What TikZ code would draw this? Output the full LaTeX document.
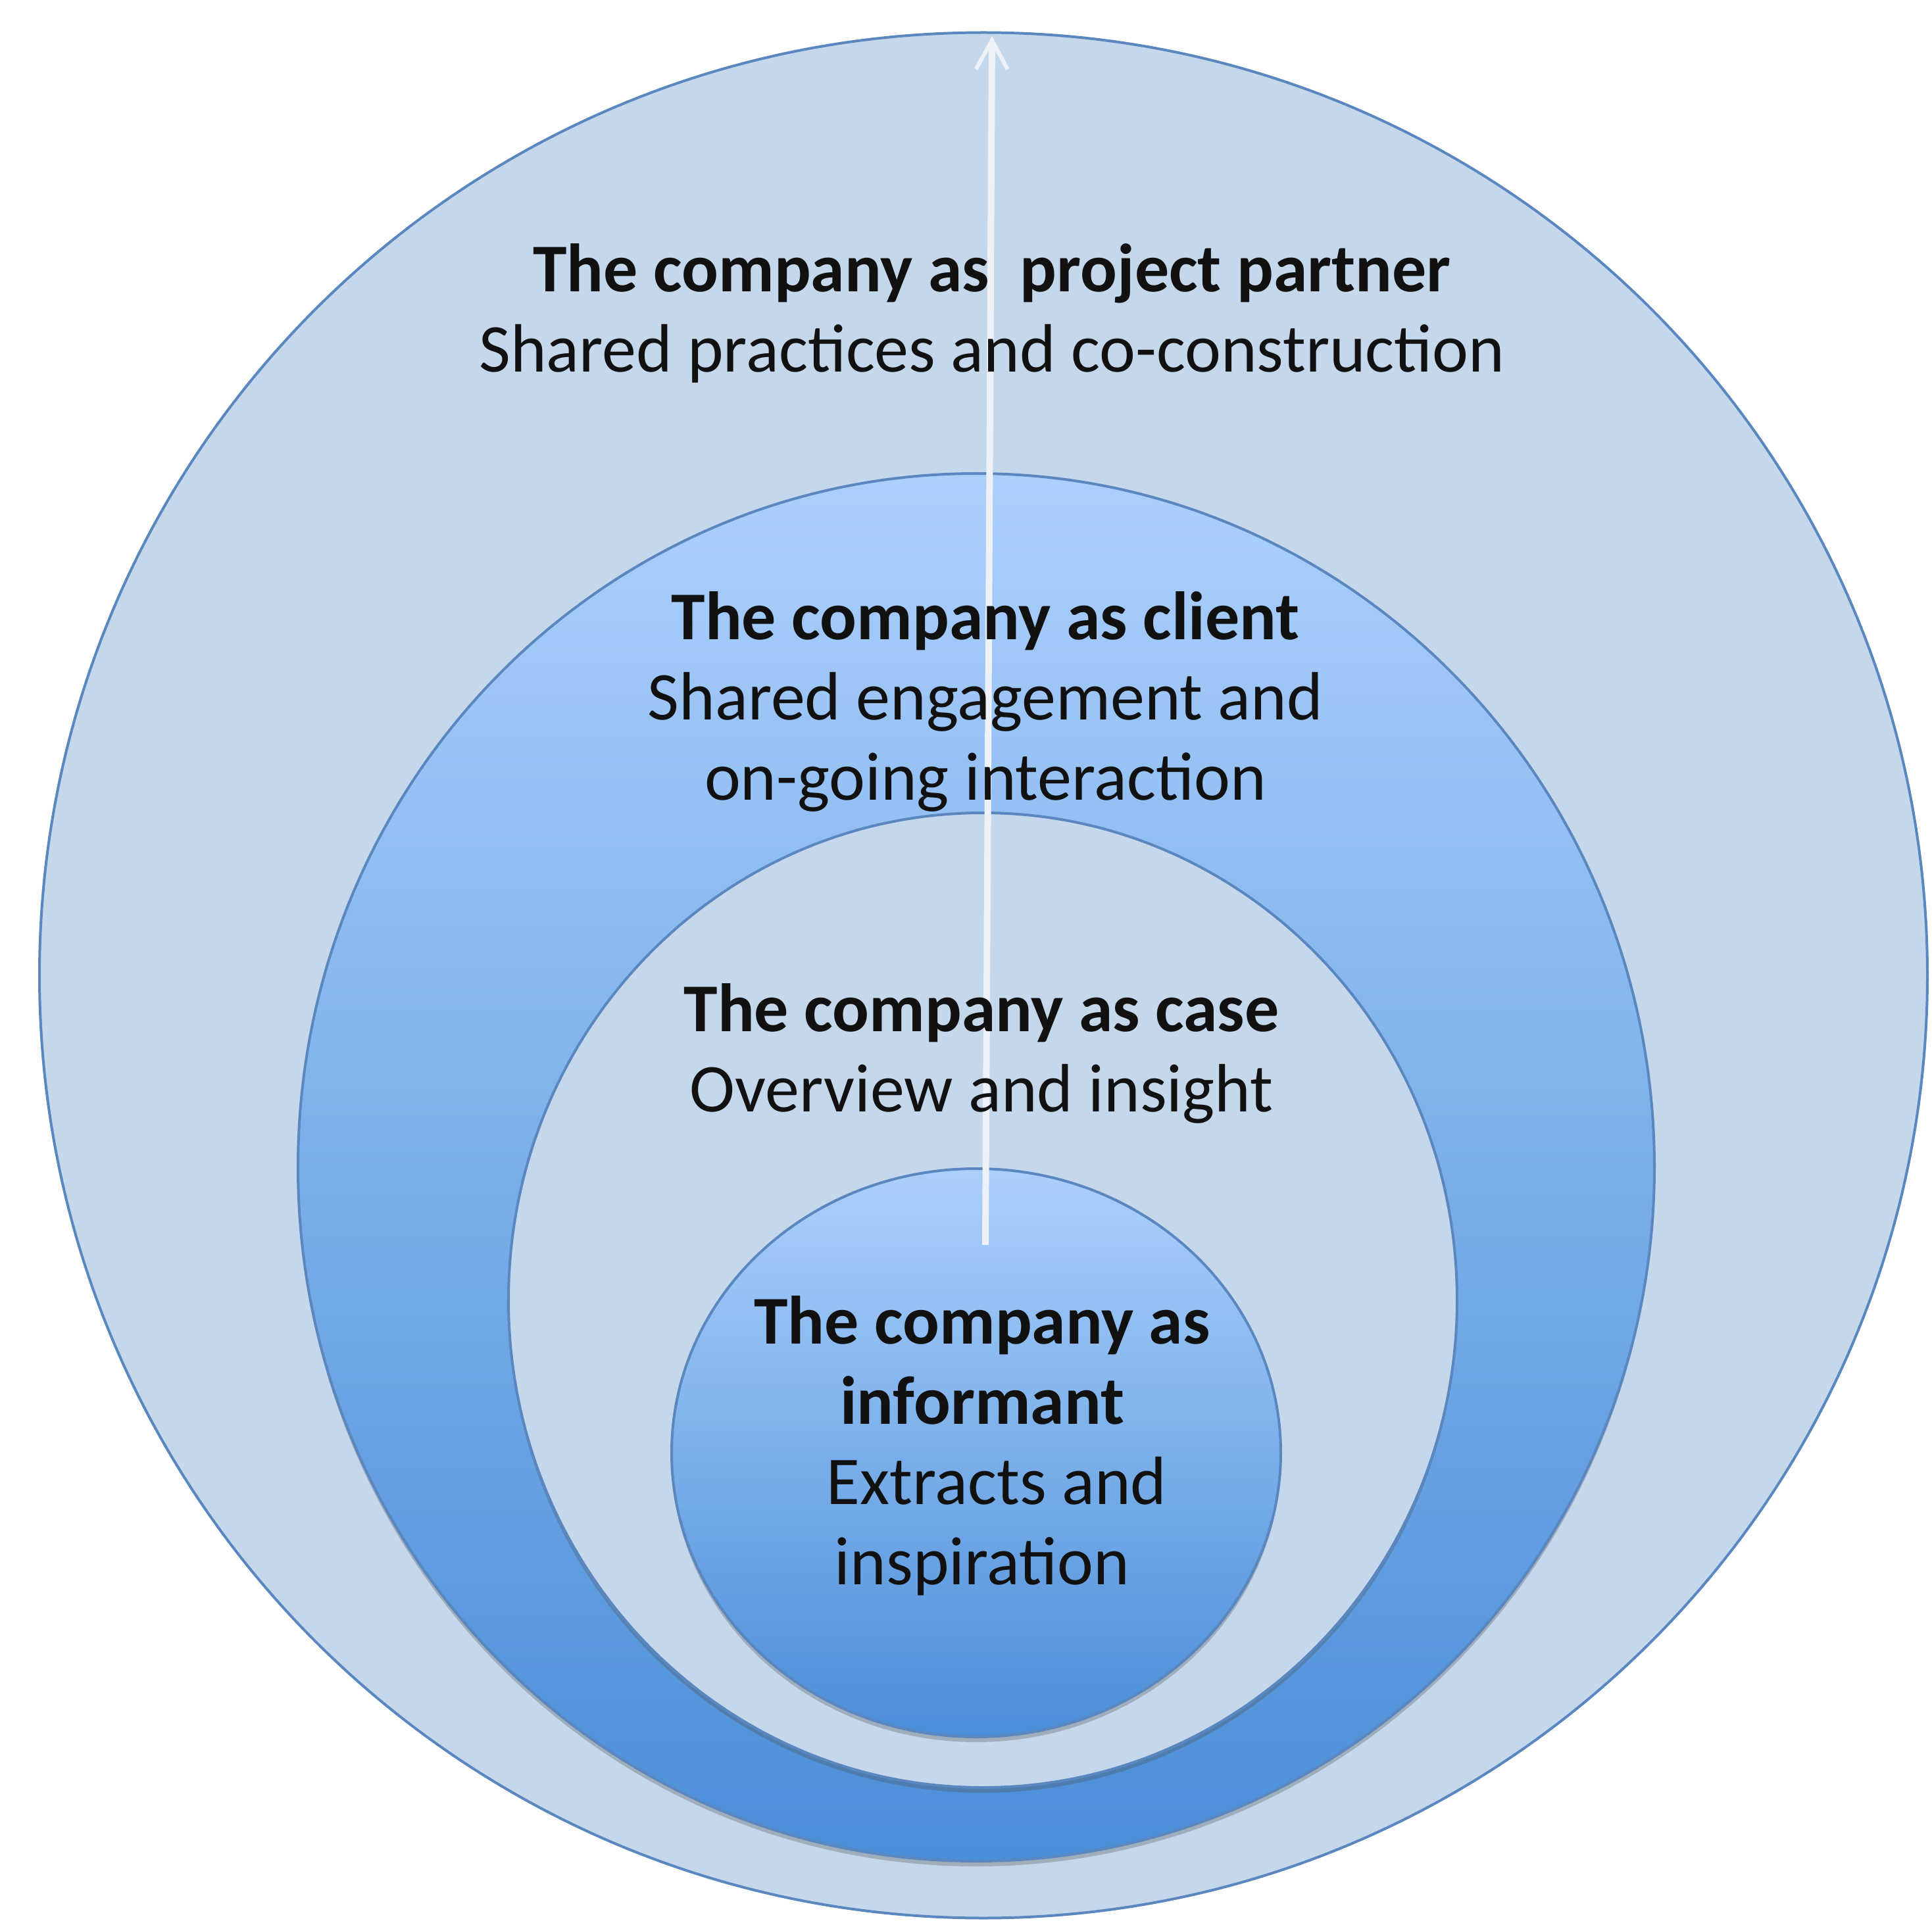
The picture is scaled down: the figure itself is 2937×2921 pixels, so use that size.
\documentclass[tikz,border=0pt]{standalone}
\usepackage{fontspec}
\setmainfont{Carlito}
\usetikzlibrary{shapes.geometric,arrows.meta,shadows}
\definecolor{paleblue}{HTML}{C5D7EB}
\definecolor{ringedge}{HTML}{5A87BF}
\definecolor{gradtop}{HTML}{ACD0FC}
\definecolor{gradbot}{HTML}{4A8ED8}
\definecolor{arrowcol}{HTML}{EEF2F8}
\definecolor{inkcol}{HTML}{111111}
\begin{document}
\begin{tikzpicture}[x=0.25pt,y=-0.25pt,
  ring/.style={ellipse, draw=ringedge, line width=1pt, inner sep=0pt},
  softshadow/.style={drop shadow={shadow xshift=0pt, shadow yshift=-2pt, opacity=0.3, fill=black!70}},
  gradfill/.style={top color=gradtop, bottom color=gradbot},
  label/.style={align=center, text=inkcol, font=\fontsize{26pt}{30.5pt}\selectfont, inner sep=0pt},
  arrowline/.style={draw=arrowcol, line width=2.5pt, -{Straight Barb[length=11pt, width=12pt, line width=1.5pt]}}
]
\fill[white] (0,0) rectangle (2937,2921);
\useasboundingbox (0,0) rectangle (2937,2921);

\node[ring, fill=paleblue, minimum width=717.5pt, minimum height=716.75pt] (partner) at (1495,1483) {};
\node[ring, softshadow, gradfill, minimum width=515.5pt, minimum height=527.5pt] (client) at (1484,1775) {};
\node[ring, softshadow, fill=paleblue, minimum width=360.5pt, minimum height=370.5pt] (case) at (1494,1977) {};
\node[ring, softshadow, gradfill, minimum width=231.5pt, minimum height=216pt] (informant) at (1484,2209) {};

\coordinate (astart) at (1498,1893);
\coordinate (aend) at (1508,55);
\draw[arrowline] (astart) -- (aend);

\node[label] (tpartner) at (1508,476) {\textbf{The company as\ \ project partner}\\Shared practices and co-construction};
\node[label] (tclient) at (1498,1067) {\textbf{The company as client}\\Shared engagement and\\on-going interaction};
\node[label] (tcase) at (1492,1602) {\textbf{The company as case}\\Overview and insight};
\node[label] (tinformant) at (1493,2198) {\textbf{The company as}\\\textbf{informant}\\\hspace*{11pt}Extracts and\\inspiration};
\end{tikzpicture}
\end{document}
